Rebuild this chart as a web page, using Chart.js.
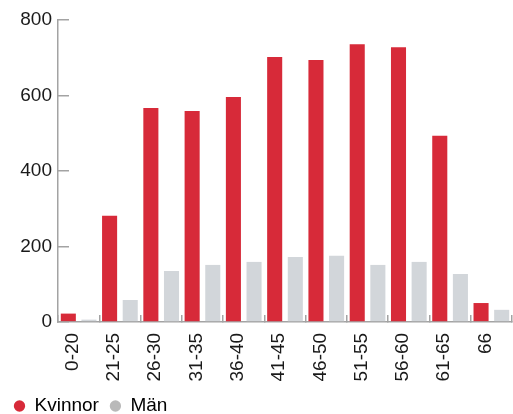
<!DOCTYPE html>
<html>
<head>
<meta charset="utf-8">
<script src="https://cdn.jsdelivr.net/npm/chart.js@4/dist/chart.umd.min.js"></script>
<style>
    html, body { margin: 0; padding: 0; background: #fff; }
    #wrap { width: 513px; height: 414px; }
</style>
</head>
<body>
<div id="wrap"><canvas id="ageChart" width="513" height="414"></canvas></div>
<script>
// Antal anställda per åldersgrupp
const ageGroups = ['0-20', '21-25', '26-30', '31-35', '36-40', '41-45', '46-50', '51-55', '56-60', '61-65', '66'];
const women = [22, 281, 567, 559, 596, 702, 694, 736, 728, 493, 50];
const men = [6, 58, 135, 151, 159, 172, 175, 151, 159, 127, 32];
const yTicks = [0, 200, 400, 600, 800];

const axisColor = '#a3a3a3';
const fontFamily = "'Liberation Sans', Arial, sans-serif";

Chart.defaults.font.family = fontFamily;
Chart.defaults.font.size = 19;
Chart.defaults.color = '#1a1a1a';

// no extra room for labels hanging past the ends of an axis
function noEdgePadding(scale) {
    scale.paddingTop = 0;
    scale.paddingBottom = 0;
    scale.paddingLeft = 0;
    scale.paddingRight = 0;
}

const ctx = document.getElementById('ageChart').getContext('2d');
const ageChart = new Chart(ctx, {
    type: 'bar',
    data: {
        labels: ageGroups,
        datasets: [{
            label: 'Kvinnor',
            data: women,
            backgroundColor: '#d72a39',
            barPercentage: 0.73,
            categoryPercentage: 1
        }, {
            label: 'Män',
            data: men,
            backgroundColor: '#d2d6da',
            barPercentage: 0.73,
            categoryPercentage: 1
        }]
    },
    options: {
        responsive: false,
        animation: false,
        layout: {
            padding: { left: 3, top: 20, right: 1, bottom: -11.5 }
        },
        plugins: {
            tooltip: { enabled: false },
            legend: {
                position: 'bottom',
                align: 'start',
                labels: {
                    usePointStyle: true,
                    pointStyle: 'circle',
                    boxHeight: 8,
                    boxWidth: 11,
                    padding: 11,
                    color: '#1a1a1a',
                    font: { size: 19 },
                    generateLabels: function (chart) {
                        return chart.data.datasets.map(function (ds, i) {
                            return {
                                text: ds.label,
                                fillStyle: i === 0 ? '#d72a39' : '#b9b9b9',
                                strokeStyle: i === 0 ? '#d72a39' : '#b9b9b9',
                                lineWidth: 0,
                                pointStyle: 'circle',
                                datasetIndex: i
                            };
                        });
                    }
                }
            }
        },
        scales: {
            x: {
                offset: true,
                afterFit: function (scale) {
                    noEdgePadding(scale);
                    scale.height -= 14;
                },
                border: { color: axisColor, width: 1.5 },
                grid: {
                    offset: true,
                    drawOnChartArea: false,
                    color: axisColor,
                    lineWidth: 1.5,
                    tickLength: -7
                },
                ticks: {
                    minRotation: 90,
                    maxRotation: 90,
                    autoSkip: false,
                    padding: 18,
                    labelOffset: -6
                }
            },
            y: {
                min: 0,
                max: 800,
                afterFit: function (scale) {
                    scale.width = 55;
                    noEdgePadding(scale);
                },
                afterBuildTicks: function (scale) {
                    scale.ticks = yTicks.map(function (v) { return { value: v }; });
                },
                border: { color: axisColor, width: 1.5 },
                grid: {
                    drawOnChartArea: false,
                    color: axisColor,
                    lineWidth: 1.5,
                    tickLength: -11
                },
                ticks: {
                    padding: 17
                }
            }
        }
    }
});
</script>
</body>
</html>
